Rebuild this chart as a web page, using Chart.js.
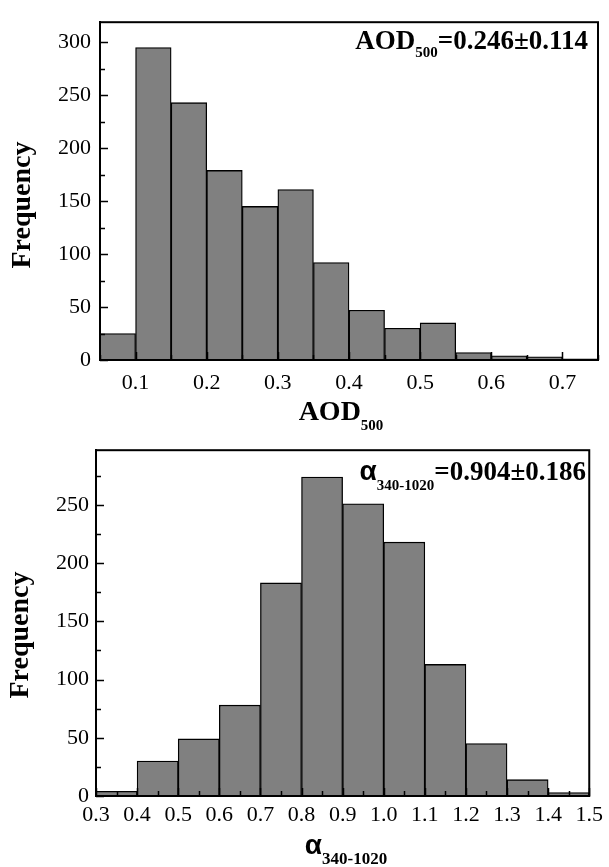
<!DOCTYPE html>
<html>
<head>
<meta charset="utf-8">
<script src="https://cdn.jsdelivr.net/npm/chart.js@4"></script>
<style>
  body { margin: 0; background: #fff; }
  .box { position: relative; width: 609px; }
  #topBox { height: 430px; }
  #bottomBox { height: 437px; }
</style>
</head>
<body>
<div class="box" id="topBox"><canvas id="aodChart"></canvas></div>
<div class="box" id="bottomBox"><canvas id="alphaChart"></canvas></div>
<script>
// --- DATA ---
// AOD500 histogram, bin width 0.05, bins given by their left edge
const aodBinStart = [0.05, 0.10, 0.15, 0.20, 0.25, 0.30, 0.35, 0.40, 0.45, 0.50, 0.55, 0.60, 0.65, 0.70];
const aodFreq = [25, 295, 243, 179, 145, 161, 92, 47, 30, 35, 7, 4, 3, 1];
const aodXTicks = [0.1, 0.2, 0.3, 0.4, 0.5, 0.6, 0.7];
const aodYTicks = [0, 50, 100, 150, 200, 250, 300];

// Angstrom exponent histogram, bin width 0.1
const alphaBinStart = [0.3, 0.4, 0.5, 0.6, 0.7, 0.8, 0.9, 1.0, 1.1, 1.2, 1.3, 1.4];
const alphaFreq = [4, 30, 49, 78, 183, 274, 251, 218, 113, 45, 14, 3];
const alphaXTicks = [0.3, 0.4, 0.5, 0.6, 0.7, 0.8, 0.9, 1.0, 1.1, 1.2, 1.3, 1.4, 1.5];
const alphaYTicks = [0, 50, 100, 150, 200, 250];

// --- STYLE ---
const serif = '"Liberation Serif", "Times New Roman", serif';
const sans = '"Liberation Sans", Arial, sans-serif';

function drawRuns(ctx, runs, x, y, align) {
    let total = 0;
    runs.forEach(r => { ctx.font = r.font; total += ctx.measureText(r.text).width; });
    if (align === 'right') x -= total;
    if (align === 'center') x -= total / 2;
    ctx.textBaseline = 'alphabetic';
    ctx.textAlign = 'left';
    runs.forEach(r => {
        ctx.font = r.font;
        ctx.fillText(r.text, x, y + (r.dy || 0));
        x += ctx.measureText(r.text).width;
    });
}

// frame, inward ticks, titles, annotation
const decorPlugin = {
    id: 'decor',
    afterDatasetsDraw(chart, args, opts) {
        const ctx = chart.ctx;
        const a = chart.chartArea;
        const xs = chart.scales.x, ys = chart.scales.y;
        ctx.save();
        ctx.strokeStyle = '#000';
        ctx.lineWidth = 1.5;
        ctx.beginPath();
        // x ticks every minor step, pointing up into the plot
        for (let v = xs.min; v <= xs.max + 1e-9; v += opts.xMinor) {
            const px = Math.round(xs.getPixelForValue(v)) + 0.5;
            const major = Math.abs(v / opts.xMajor - Math.round(v / opts.xMajor)) < 1e-6;
            const len = major ? 8 : 5;
            ctx.moveTo(px, a.bottom);
            ctx.lineTo(px, a.bottom - len);
        }
        // y ticks pointing right into the plot
        for (let v = 0; v <= ys.max + 1e-9; v += 25) {
            const py = Math.round(ys.getPixelForValue(v)) + 0.5;
            const len = v % 50 === 0 ? 8 : 5;
            ctx.moveTo(a.left, py);
            ctx.lineTo(a.left + len, py);
        }
        ctx.stroke();
        // box
        ctx.lineWidth = 2;
        ctx.strokeRect(a.left, a.top, a.right - a.left, a.bottom - a.top);

        ctx.fillStyle = '#000';
        drawRuns(ctx, opts.annotation, opts.annX, opts.annY, 'right');
        drawRuns(ctx, opts.xTitle, opts.xTitleX, opts.xTitleY, 'center');

        ctx.translate(opts.yTitleX, opts.yTitleY);
        ctx.rotate(-Math.PI / 2);
        ctx.font = 'bold 28px ' + serif;
        ctx.textAlign = 'center';
        ctx.textBaseline = 'middle';
        ctx.fillText('Frequency', 0, 0);
        ctx.restore();
    }
};

function makeHistogram(canvasId, binStart, binWidth, freq, xTicks, yTicks, xMin, xMax, yMax, lay, decor) {
    const points = binStart.map((s, i) => ({ x: s + binWidth / 2, y: freq[i] }));
    return new Chart(document.getElementById(canvasId), {
        type: 'bar',
        data: {
            datasets: [{
                data: points,
                backgroundColor: '#808080',
                borderColor: '#000',
                borderWidth: 1.3,
                barPercentage: 1,
                categoryPercentage: 1,
                grouped: false
            }]
        },
        options: {
            responsive: true,
            maintainAspectRatio: false,
            animation: false,
            layout: { padding: { top: lay.top, right: lay.right, left: 0, bottom: 0 } },
            plugins: {
                legend: { display: false },
                tooltip: { enabled: false },
                decor: decor
            },
            scales: {
                x: {
                    type: 'linear',
                    min: xMin,
                    max: xMax,
                    offset: false,
                    afterBuildTicks: s => { s.ticks = xTicks.map(v => ({ value: v })); },
                    afterFit: s => { s.height = lay.xHeight; },
                    grid: { display: false, drawTicks: false },
                    border: { display: true, color: '#000', width: 2 },
                    ticks: {
                        color: '#000',
                        padding: lay.xPad,
                        maxRotation: 0,
                        autoSkip: false,
                        font: { family: serif, size: 22 },
                        callback: v => Number(v).toFixed(1)
                    }
                },
                y: {
                    min: 0,
                    max: yMax,
                    afterBuildTicks: s => { s.ticks = yTicks.map(v => ({ value: v })); },
                    afterFit: s => { s.width = lay.yWidth; },
                    grid: { display: false, drawTicks: false },
                    border: { display: true, color: '#000', width: 2 },
                    ticks: {
                        color: '#000',
                        padding: lay.yPad,
                        font: { family: serif, size: 22 }
                    }
                }
            }
        },
        plugins: [decorPlugin]
    });
}

makeHistogram('aodChart', aodBinStart, 0.05, aodFreq, aodXTicks, aodYTicks, 0.05, 0.75, 319,
    { top: 11, right: 11, xHeight: 70, yWidth: 100, xPad: 10, yPad: 9 },
    {
        xMinor: 0.05, xMajor: 0.1,
        annotation: [
            { text: 'AOD', font: 'bold 27px ' + serif },
            { text: '500', font: 'bold 15px ' + serif, dy: 8 },
            { text: '=0.246±0.114', font: 'bold 27px ' + serif }
        ],
        annX: 588, annY: 49,
        xTitle: [
            { text: 'AOD', font: 'bold 28px ' + serif },
            { text: '500', font: 'bold 15px ' + serif, dy: 10 }
        ],
        xTitleX: 341, xTitleY: 420,
        yTitleX: 23, yTitleY: 205
    });

makeHistogram('alphaChart', alphaBinStart, 0.1, alphaFreq, alphaXTicks, alphaYTicks, 0.3, 1.5, 297,
    { top: 16, right: 15, xHeight: 71, yWidth: 96, xPad: 6, yPad: 7 },
    {
        xMinor: 0.05, xMajor: 0.1,
        annotation: [
            { text: 'α', font: 'bold 28px ' + sans },
            { text: '340-1020', font: 'bold 15px ' + serif, dy: 10 },
            { text: '=0.904±0.186', font: 'bold 27px ' + serif }
        ],
        annX: 586, annY: 50,
        xTitle: [
            { text: 'α', font: 'bold 28px ' + sans },
            { text: '340-1020', font: 'bold 17px ' + serif, dy: 10 }
        ],
        xTitleX: 346, xTitleY: 424,
        yTitleX: 21, yTitleY: 205
    });
</script>
</body>
</html>
